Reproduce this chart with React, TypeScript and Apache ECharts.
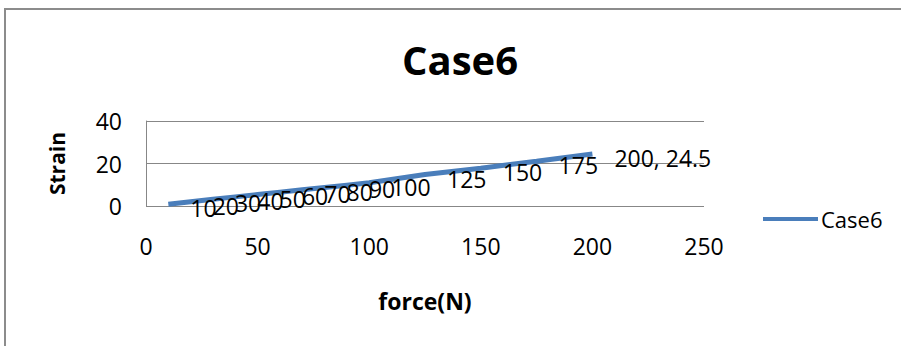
import React, { useEffect, useRef } from "react";
import * as echarts from "echarts";

// Force (N) applied and measured strain for Case6
const forces = [10, 20, 30, 40, 50, 60, 70, 80, 90, 100, 125, 150, 175, 200];
const strains = [0.8, 2.0, 3.2, 4.3, 5.4, 6.5, 7.6, 8.7, 9.8, 10.9, 14.8, 17.8, 21.1, 24.5];
const seriesName = "Case6";
const xTicks = { min: 0, max: 250, interval: 50 };
const yTicks = { min: 0, max: 40, interval: 20 };

const FONT = "Open Sans";
const LINE_COLOR = "#4a7ebb";

export default function App() {
  const ref = useRef<HTMLDivElement>(null);

  useEffect(() => {
    document.body.style.margin = "0";
    if (!ref.current) return;
    const chart = echarts.init(ref.current, undefined, { renderer: "svg" });
    const last = forces.length - 1;
    chart.setOption({
      animation: false,
      backgroundColor: "#ffffff",
      textStyle: { fontFamily: FONT, color: "#000" },
      title: {
        text: seriesName,
        left: 402,
        top: 39,
        padding: 0,
        textStyle: { fontFamily: FONT, fontWeight: "bold", fontSize: 40, color: "#000" },
      },
      legend: {
        data: [seriesName],
        left: 763,
        top: 208,
        icon: "rect",
        itemWidth: 55,
        itemHeight: 4,
        itemGap: 0,
        padding: 0,
        itemStyle: { color: LINE_COLOR, opacity: 1 },
        textStyle: { fontFamily: FONT, fontSize: 22, color: "#000", padding: [0, 0, 0, -2] },
      },
      grid: { left: 146, right: 197, top: 121, bottom: 140, containLabel: false },
      xAxis: {
        type: "value",
        min: xTicks.min,
        max: xTicks.max,
        interval: xTicks.interval,
        name: "force(N)",
        nameLocation: "middle",
        nameGap: 83,
        nameTextStyle: { fontFamily: FONT, fontWeight: "bold", fontSize: 23, color: "#000" },
        axisLine: { show: false },
        axisTick: { show: false },
        splitLine: { show: false },
        axisLabel: { margin: 28, fontFamily: FONT, fontSize: 23, color: "#000" },
      },
      yAxis: {
        type: "value",
        min: yTicks.min,
        max: yTicks.max,
        interval: yTicks.interval,
        name: "Strain",
        nameLocation: "middle",
        nameRotate: 90,
        nameGap: 79,
        nameTextStyle: { fontFamily: FONT, fontWeight: "bold", fontSize: 21, color: "#000" },
        axisLine: { show: true, lineStyle: { color: "#878787", width: 1 } },
        axisTick: { show: false },
        splitLine: { show: true, lineStyle: { color: "#878787", width: 1 } },
        axisLabel: { margin: 24, fontFamily: FONT, fontSize: 23, color: "#000" },
      },
      series: [
        {
          name: seriesName,
          type: "line",
          data: forces.map((f, i) => [f, strains[i]]),
          showSymbol: true,
          symbol: "circle",
          symbolSize: 2,
          lineStyle: { color: LINE_COLOR, width: 5 },
          itemStyle: { color: "rgba(0,0,0,0)", borderWidth: 0 },
          label: {
            show: true,
            position: "right",
            distance: 21,
            offset: [0, 4],
            fontFamily: FONT,
            fontSize: 23,
            color: "#000",
            formatter: (p: any) =>
              p.dataIndex === last ? `${p.value[0]}, ${p.value[1]}` : `${p.value[0]}`,
          },
        },
      ],
      graphic: [
        {
          type: "rect",
          shape: { x: 5, y: 9, width: 1000, height: 400 },
          style: { fill: "none", stroke: "#8c8c8c", lineWidth: 2 },
          silent: true,
        },
      ],
    });
    return () => chart.dispose();
  }, []);

  return <div ref={ref} style={{ width: 901, height: 346 }} />;
}
